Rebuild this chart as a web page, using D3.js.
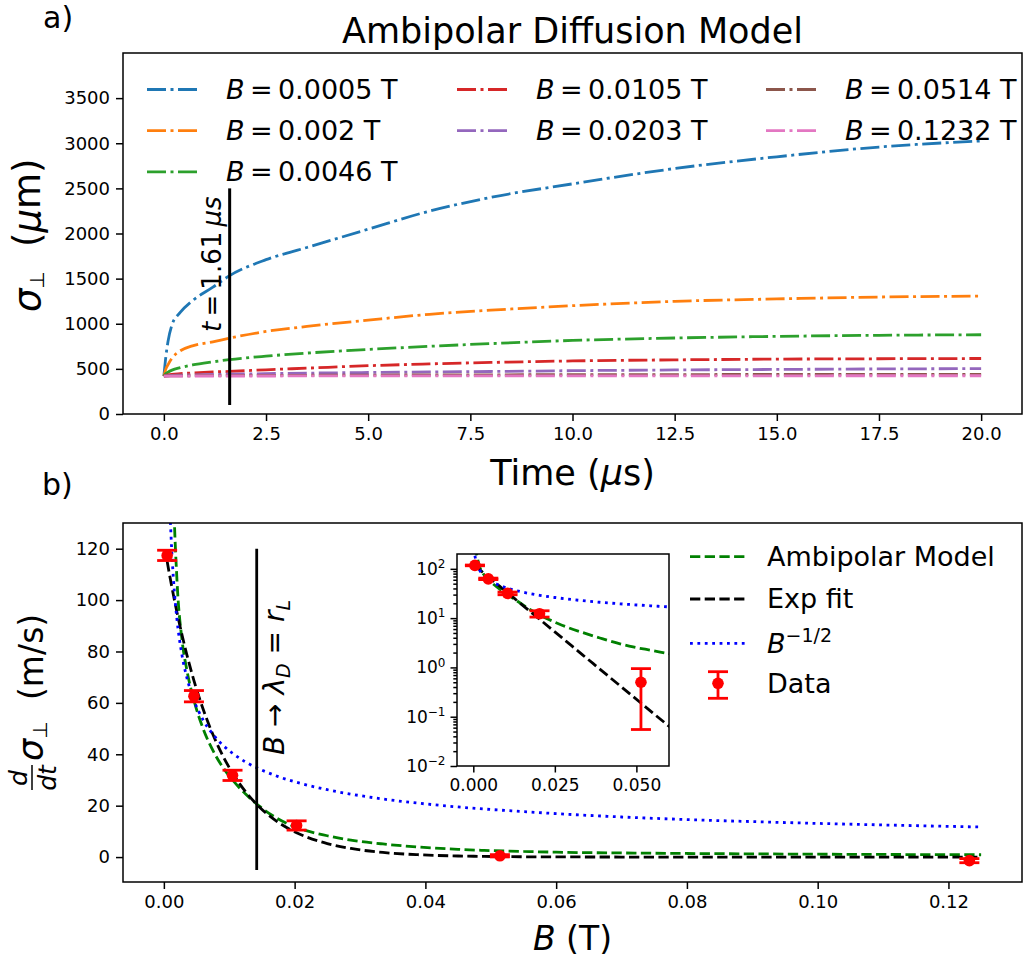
<!DOCTYPE html>
<html>
<head>
<meta charset="utf-8">
<script src="https://cdn.jsdelivr.net/npm/d3@7"></script>
<style>
  body { margin: 0; background: #fff; }
  svg { font-family: "DejaVu Sans", sans-serif; }
</style>
</head>
<body>
<script>
// ---- panel a) data: sigma_perp (um) vs time (us), one array per field ----
const times = [0, 0.05, 0.1, 0.2, 0.4, 0.7, 1.2, 1.6, 2.5, 3.5, 5, 6.5, 8, 10, 12.5, 15, 17.5, 20];
const sigmaB0005 = [420, 640, 800, 990, 1125, 1255, 1405, 1530, 1710, 1845, 2048, 2248, 2400, 2550, 2720, 2850, 2958, 3026];
const sigmaB002  = [420, 500, 545, 620, 700, 755, 800, 840, 915, 970, 1040, 1105, 1150, 1200, 1248, 1275, 1296, 1306];
const sigmaB0046 = [420, 448, 463, 486, 513, 543, 578, 602, 641, 675, 715, 750, 780, 815, 842, 860, 872, 878];
const sigmaB0105 = [420, 428, 433, 440, 447, 455, 466, 472, 490, 508, 535, 555, 571, 588, 600, 608, 612, 615];
const sigmaB0203 = [420, 423, 425, 428, 431, 434, 438, 441, 447, 453, 460, 466, 471, 480, 488, 494, 499, 503];
const sigmaB0514 = [420, 421, 421, 422, 423, 424, 425, 426, 428, 429, 431, 433, 434, 436, 437, 438, 439, 440];
const sigmaB1232 = [420, 420, 420, 420, 420, 421, 421, 421, 421, 422, 422, 422, 422, 423, 423, 423, 424, 424];
const fieldLabels = ["0.0005", "0.002", "0.0046", "0.0105", "0.0203", "0.0514", "0.1232"];
const fieldSeries = [sigmaB0005, sigmaB002, sigmaB0046, sigmaB0105, sigmaB0203, sigmaB0514, sigmaB1232];
const fieldColors = ["#1f77b4", "#ff7f0e", "#2ca02c", "#d62728", "#9467bd", "#8c564b", "#e377c2"];
const markTime = 1.61;
const markTimeSpan = [100, 2500];

// ---- panel b) data: d sigma/dt (m/s) vs B (T) ----
const dataB    = [0.0005, 0.0046, 0.0105, 0.0203, 0.0514, 0.1232];
const dataRate = [117.4, 62.6, 31.8, 12.3, 0.5, -1.4];
const dataErr  = [2, 2.2, 2, 1.8, 0.445, 0.8];
const curveB    = [0.0005, 0.00075, 0.001, 0.0012, 0.0015, 0.002, 0.0028, 0.0035, 0.0046, 0.006, 0.0076, 0.009,
                   0.0105, 0.0125, 0.0146, 0.0175, 0.0203, 0.025, 0.0286, 0.0335, 0.0388, 0.045, 0.049, 0.055,
                   0.06, 0.07, 0.08, 0.09, 0.1, 0.11, 0.125];
const ambipolar = [300, 240, 200, 175, 140, 108, 84, 73, 61, 50, 41, 35,
                   30, 24.5, 19.8, 14.8, 11.5, 8.3, 6.6, 5.1, 3.95, 3.0, 2.6, 2.2,
                   1.9, 1.6, 1.4, 1.25, 1.12, 1.02, 0.9];
const expFit    = [115.1, 111.5, 108.1, 105.4, 101.5, 95.3, 86.2, 78.9, 68.7, 57.6, 47.1, 39.5,
                   32.7, 25.4, 19.5, 13.5, 9.5, 5.26, 3.34, 1.8, 0.925, 0.424, 0.256, 0.12,
                   0.064, 0.0182, 0.00515, 0.00147, 0.00042, 0.000118, 0.0000176];
const invSqrt   = [185.1, 151.2, 130.9, 119.5, 106.9, 92.6, 78.2, 70.0, 61.0, 53.4, 47.5, 43.6,
                   40.4, 37.0, 34.3, 31.3, 29.1, 26.2, 24.5, 22.6, 21.0, 19.5, 18.7, 17.7,
                   16.9, 15.6, 14.6, 13.8, 13.1, 12.5, 11.7];
const markB = 0.0142;
const markBSpan = [-5, 120];

// ---- ticks ----
const topXTicks = [0, 2.5, 5, 7.5, 10, 12.5, 15, 17.5, 20];
const topYTicks = [0, 500, 1000, 1500, 2000, 2500, 3000, 3500];
const botXTicks = [0, 0.02, 0.04, 0.06, 0.08, 0.1, 0.12];
const botYTicks = [0, 20, 40, 60, 80, 100, 120];
const insetXTicks = [0, 0.025, 0.05];
const insetYTicks = [1e-2, 1e-1, 1e0, 1e1, 1e2];

const W = 1024, H = 959;
const LW = 2.8;
const DASHDOT = "19,4.5,3,4.5", DASHED = "10.3,4.4", DOTTED = "2.8,4.6";
const TS = "\u2009";  // thin space used around relations, like mathtext

const svg = d3.select("body").append("svg")
    .attr("width", W).attr("height", H);

const defs = svg.append("defs");
function clip(id, x0, y0, x1, y1) {
    defs.append("clipPath").attr("id", id)
        .append("rect").attr("x", x0).attr("y", y0).attr("width", x1 - x0).attr("height", y1 - y0);
}

function styleAxis(g, fs) {
    g.select(".domain").remove();
    g.selectAll(".tick line").attr("stroke", "#000").attr("stroke-width", 1.5);
    g.selectAll(".tick text").attr("fill", "#000").attr("font-size", fs)
        .attr("font-family", "DejaVu Sans, sans-serif");
}

function frame(x0, y0, x1, y1) {
    svg.append("rect").attr("x", x0).attr("y", y0).attr("width", x1 - x0).attr("height", y1 - y0)
        .attr("fill", "none").attr("stroke", "#000").attr("stroke-width", 1.5);
}

// ================= panel a =================
const A = { x0: 123, x1: 1022, y0: 53, y1: 414 };
const xA = d3.scaleLinear().domain([-1, 21]).range([A.x0, A.x1]);
const yA = d3.scaleLinear().domain([0, 4000]).range([A.y1, A.y0]);
clip("clipA", A.x0, A.y0, A.x1, A.y1);

svg.append("g").attr("transform", `translate(0,${A.y1})`)
    .call(d3.axisBottom(xA).tickValues(topXTicks).tickFormat(d3.format(".1f")).tickSize(7).tickPadding(6))
    .call(g => styleAxis(g, 18));
svg.append("g").attr("transform", `translate(${A.x0},0)`)
    .call(d3.axisLeft(yA).tickValues(topYTicks).tickFormat(d3.format("d")).tickSize(7).tickPadding(6))
    .call(g => styleAxis(g, 18));

const lineA = d3.line().x((d, i) => xA(times[i])).y(d => yA(d)).curve(d3.curveMonotoneX);
const gA = svg.append("g").attr("clip-path", "url(#clipA)");
fieldSeries.forEach((s, k) => {
    gA.append("path").attr("d", lineA(s))
        .attr("fill", "none").attr("stroke", fieldColors[k]).attr("stroke-width", LW)
        .attr("stroke-dasharray", DASHDOT);
});

// vertical marker at t = 1.61 us
svg.append("line")
    .attr("x1", xA(markTime)).attr("x2", xA(markTime))
    .attr("y1", yA(markTimeSpan[0])).attr("y2", yA(markTimeSpan[1]))
    .attr("stroke", "#000").attr("stroke-width", 3);
const tLab = svg.append("text")
    .attr("transform", `translate(${xA(markTime) - 9},332) rotate(-90)`)
    .attr("font-size", 26).attr("fill", "#000");
tLab.append("tspan").attr("font-style", "italic").text("t");
tLab.append("tspan").text(TS + "=" + TS + "1.61" + TS);
tLab.append("tspan").attr("font-style", "italic").text("μs");

frame(A.x0, A.y0, A.x1, A.y1);

// legend (3 columns, column major)
const legCols = [[0, 1, 2], [3, 4], [5, 6]];
const legColX = [147, 457, 766];
legCols.forEach((col, c) => {
    col.forEach((k, r) => {
        const ly = 89.5 + r * 41.2;
        svg.append("line")
            .attr("x1", legColX[c]).attr("x2", legColX[c] + 53)
            .attr("y1", ly).attr("y2", ly)
            .attr("stroke", fieldColors[k]).attr("stroke-width", LW)
            .attr("stroke-dasharray", DASHDOT);
        const t = svg.append("text").attr("x", legColX[c] + 79).attr("y", ly).attr("dy", "0.35em")
            .attr("font-size", 27).attr("fill", "#000");
        t.append("tspan").attr("font-style", "italic").text("B");
        t.append("tspan").text(TS + "=" + TS + fieldLabels[k] + " T");
    });
});

// titles and labels
svg.append("text").attr("x", (A.x0 + A.x1) / 2).attr("y", 43).attr("text-anchor", "middle")
    .attr("font-size", 35).attr("fill", "#000").text("Ambipolar Diffusion Model");
svg.append("text").attr("x", 43).attr("y", 28).attr("font-size", 30).attr("fill", "#000").text("a)");
const xlA = svg.append("text").attr("x", (A.x0 + A.x1) / 2).attr("y", 485).attr("text-anchor", "middle")
    .attr("font-size", 35).attr("fill", "#000");
xlA.append("tspan").text("Time (");
xlA.append("tspan").attr("font-style", "italic").text("μ");
xlA.append("tspan").text("s)");

const ylA = svg.append("g").attr("transform", "translate(40,312) rotate(-90)");
ylA.append("text").attr("x", 0).attr("y", 0).attr("font-size", 37).attr("font-style", "italic").text("σ");
ylA.append("text").attr("x", 23).attr("y", 4).attr("font-size", 20).text("⊥");
const ylA2 = ylA.append("text").attr("x", 65).attr("y", 0).attr("font-size", 37);
ylA2.append("tspan").text("(");
ylA2.append("tspan").attr("font-style", "italic").text("μ");
ylA2.append("tspan").text("m)");

// ================= panel b =================
const Bp = { x0: 123, x1: 1022, y0: 523, y1: 882 };
const xB = d3.scaleLinear().domain([-0.00625, 0.13125]).range([Bp.x0, Bp.x1]);
const yB = d3.scaleLinear().domain([-9.7, 130]).range([Bp.y1, Bp.y0]);
clip("clipB", Bp.x0, Bp.y0, Bp.x1, Bp.y1);

svg.append("g").attr("transform", `translate(0,${Bp.y1})`)
    .call(d3.axisBottom(xB).tickValues(botXTicks).tickFormat(d3.format(".2f")).tickSize(7).tickPadding(6))
    .call(g => styleAxis(g, 18));
svg.append("g").attr("transform", `translate(${Bp.x0},0)`)
    .call(d3.axisLeft(yB).tickValues(botYTicks).tickFormat(d3.format("d")).tickSize(7).tickPadding(6))
    .call(g => styleAxis(g, 18));

const curves = [
    { values: ambipolar, color: "#008000", dash: DASHED },
    { values: expFit,    color: "#000000", dash: DASHED },
    { values: invSqrt,   color: "#0000ff", dash: DOTTED }
];

const gB = svg.append("g").attr("clip-path", "url(#clipB)");
const lineB = d3.line().x((d, i) => xB(curveB[i])).y(d => yB(d)).curve(d3.curveMonotoneX);
curves.forEach(c => {
    gB.append("path").attr("d", lineB(c.values))
        .attr("fill", "none").attr("stroke", c.color).attr("stroke-width", LW)
        .attr("stroke-dasharray", c.dash);
});

function errorPoint(g, cx, cyLo, cy, cyHi) {
    g.append("line").attr("x1", cx).attr("x2", cx).attr("y1", cyLo).attr("y2", cyHi)
        .attr("stroke", "#ff0000").attr("stroke-width", LW);
    [cyLo, cyHi].forEach(yy => g.append("line")
        .attr("x1", cx - 10).attr("x2", cx + 10).attr("y1", yy).attr("y2", yy)
        .attr("stroke", "#ff0000").attr("stroke-width", LW));
    g.append("circle").attr("cx", cx).attr("cy", cy).attr("r", 5.8).attr("fill", "#ff0000");
}
dataB.forEach((b, i) => {
    errorPoint(gB, xB(b), yB(dataRate[i] - dataErr[i]), yB(dataRate[i]), yB(dataRate[i] + dataErr[i]));
});

svg.append("line")
    .attr("x1", xB(markB)).attr("x2", xB(markB))
    .attr("y1", yB(markBSpan[0])).attr("y2", yB(markBSpan[1]))
    .attr("stroke", "#000").attr("stroke-width", 2.8);
const bLab = svg.append("text")
    .attr("transform", `translate(${xB(markB) + 27},755) rotate(-90)`)
    .attr("font-size", 28).attr("fill", "#000");
bLab.append("tspan").attr("font-style", "italic").text("B");
bLab.append("tspan").text(" → ");
bLab.append("tspan").attr("font-style", "italic").text("λ");
bLab.append("tspan").attr("font-style", "italic").attr("font-size", 19).attr("dy", 6).text("D");
bLab.append("tspan").attr("dy", -6).text(" = ");
bLab.append("tspan").attr("font-style", "italic").text("r");
bLab.append("tspan").attr("font-style", "italic").attr("font-size", 19).attr("dy", 6).text("L");

frame(Bp.x0, Bp.y0, Bp.x1, Bp.y1);

// ---- inset (log scale) ----
const I = { x0: 457, x1: 669, y0: 554, y1: 766 };
const xI = d3.scaleLinear().domain([-0.005, 0.06]).range([I.x0, I.x1]);
const yI = d3.scaleLog().domain([1e-2, 200]).range([I.y1, I.y0]);
clip("clipI", I.x0, I.y0, I.x1, I.y1);
svg.append("rect").attr("x", I.x0).attr("y", I.y0).attr("width", I.x1 - I.x0).attr("height", I.y1 - I.y0)
    .attr("fill", "#fff");

svg.append("g").attr("transform", `translate(0,${I.y1})`)
    .call(d3.axisBottom(xI).tickValues(insetXTicks).tickFormat(d3.format(".3f")).tickSize(6.5).tickPadding(6))
    .call(g => styleAxis(g, 17));
const minorI = [];
[-2, -1, 0, 1, 2].forEach(e => d3.range(2, 10).forEach(m => {
    const v = m * Math.pow(10, e);
    if (v < 200) minorI.push(v);
}));
svg.append("g").attr("transform", `translate(${I.x0},0)`)
    .call(d3.axisLeft(yI).tickValues(minorI).tickFormat("").tickSize(3.7))
    .call(g => styleAxis(g, 17));
const yAxI = svg.append("g").attr("transform", `translate(${I.x0},0)`)
    .call(d3.axisLeft(yI).tickValues(insetYTicks).tickSize(6.5).tickPadding(5))
    .call(g => styleAxis(g, 17));
yAxI.selectAll(".tick text").each(function(d) {
    const t = d3.select(this);
    const e = Math.round(Math.log10(d));
    t.text(null);
    t.append("tspan").text("10");
    t.append("tspan").attr("dy", "-0.55em").attr("font-size", 12).text(String(e).replace("-", "−"));
});

const gI = svg.append("g").attr("clip-path", "url(#clipI)");
const lineI = d3.line().x((d, i) => xI(curveB[i])).y(d => yI(d)).curve(d3.curveMonotoneX);
curves.forEach(c => {
    gI.append("path").attr("d", lineI(c.values))
        .attr("fill", "none").attr("stroke", c.color).attr("stroke-width", LW)
        .attr("stroke-dasharray", c.dash);
});
dataB.forEach((b, i) => {
    if (dataRate[i] <= 0) return;
    errorPoint(gI, xI(b), yI(Math.max(dataRate[i] - dataErr[i], 1e-3)), yI(dataRate[i]), yI(dataRate[i] + dataErr[i]));
});
frame(I.x0, I.y0, I.x1, I.y1);

// ---- legend panel b ----
const legBX = 690, legBY = [556.7, 599, 643.3, 683.3];
curves.forEach((c, i) => {
    svg.append("line").attr("x1", legBX).attr("x2", legBX + 55)
        .attr("y1", legBY[i]).attr("y2", legBY[i])
        .attr("stroke", c.color).attr("stroke-width", LW).attr("stroke-dasharray", c.dash);
});
const lgText = (i) => svg.append("text").attr("x", 767).attr("y", legBY[i]).attr("dy", "0.35em")
    .attr("font-size", 27).attr("fill", "#000");
lgText(0).text("Ambipolar Model");
lgText(1).text("Exp fit");
const lg2 = lgText(2);
lg2.append("tspan").attr("font-style", "italic").text("B");
lg2.append("tspan").attr("dy", "-0.55em").attr("font-size", 19).text("−1/2");
errorPoint(svg, 718, 671.7, legBY[3], 698.3);
lgText(3).text("Data");

// labels panel b
svg.append("text").attr("x", 42).attr("y", 495).attr("font-size", 30).attr("fill", "#000").text("b)");
const xlB = svg.append("text").attr("x", (Bp.x0 + Bp.x1) / 2).attr("y", 950).attr("text-anchor", "middle")
    .attr("font-size", 33).attr("fill", "#000");
xlB.append("tspan").attr("font-style", "italic").text("B");
xlB.append("tspan").text(" (T)");

const ylB = svg.append("g").attr("transform", "translate(43,793) rotate(-90)");
ylB.append("text").attr("x", 15).attr("y", -16).attr("text-anchor", "middle")
    .attr("font-size", 25).attr("font-style", "italic").text("d");
ylB.append("line").attr("x1", 3).attr("x2", 28).attr("y1", -11).attr("y2", -11)
    .attr("stroke", "#000").attr("stroke-width", 1.5);
ylB.append("text").attr("x", 15).attr("y", 13).attr("text-anchor", "middle")
    .attr("font-size", 25).attr("font-style", "italic").text("dt");
ylB.append("text").attr("x", 32).attr("y", 0).attr("font-size", 35).attr("font-style", "italic").text("σ");
ylB.append("text").attr("x", 54).attr("y", 4).attr("font-size", 20).text("⊥");
ylB.append("text").attr("x", 93).attr("y", 0).attr("font-size", 33).text("(m/s)");
</script>
</body>
</html>
